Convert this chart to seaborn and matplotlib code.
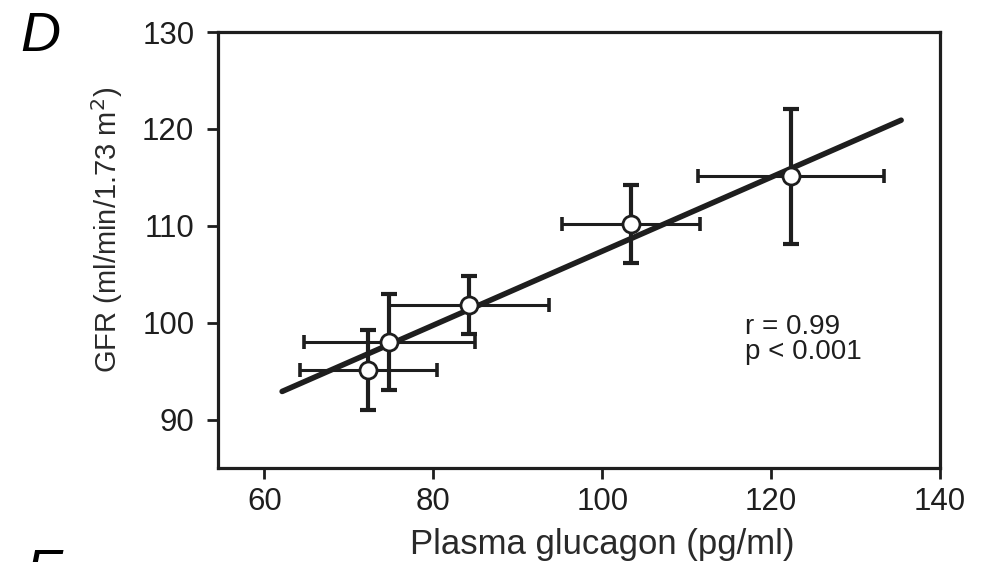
import matplotlib
matplotlib.use("Agg")
import matplotlib.pyplot as plt
import seaborn as sns
import pandas as pd

# Data
glucagon = [72.3, 74.8, 84.2, 103.4, 122.4]
glucagon_err = [8.1, 10.1, 9.5, 8.2, 11.0]
gfr = [95.1, 98.0, 101.8, 110.2, 115.1]
gfr_err = [4.1, 5.0, 3.0, 4.0, 7.0]
fit_x = [62.1, 135.4]
fit_y = [92.9, 120.9]
x_ticks = [60, 80, 100, 120, 140]
y_ticks = [90, 100, 110, 120, 130]

sns.set_theme(style="ticks")
plt.rcParams['font.family'] = ['Liberation Sans', 'DejaVu Sans']

ink = "#1e1e1e"
fig = plt.figure(figsize=(9.88, 5.62), dpi=100)
ax = fig.add_axes([0.2206, 0.1673, 0.7308, 0.7757])

df = pd.DataFrame({"x": glucagon, "y": gfr})
fit = pd.DataFrame({"x": fit_x, "y": fit_y})

sns.lineplot(data=fit, x="x", y="y", ax=ax, color=ink, linewidth=4.0, zorder=2)
ax.errorbar(glucagon, gfr, xerr=glucagon_err, fmt="none", ecolor=ink,
            elinewidth=2.2, capsize=5, capthick=2.6, zorder=3)
ax.errorbar(glucagon, gfr, yerr=gfr_err, fmt="none", ecolor=ink,
            elinewidth=3.0, capsize=5.5, capthick=3.0, zorder=3)
sns.scatterplot(data=df, x="x", y="y", ax=ax, s=150, color="white",
                edgecolor=ink, linewidth=2.0, zorder=5)

ax.set_xlim(54.5, 140)
ax.set_ylim(85, 130)
ax.set_xticks(x_ticks)
ax.set_yticks(y_ticks)
ax.tick_params(axis="both", labelsize=22.5, length=8, width=2, colors=ink,
               direction="out")
ax.tick_params(axis="y", pad=9)
ax.tick_params(axis="x", pad=6)
for s in ax.spines.values():
    s.set_visible(True)
    s.set_linewidth(2.3)
    s.set_color(ink)

ax.set_xlabel("Plasma glucagon (pg/ml)", fontsize=25, color="#2a2a2a")
ax.xaxis.set_label_coords(0.532, -0.138)
ax.set_ylabel("GFR (ml/min/1.73 m$^2$)", fontsize=21, color="#2a2a2a")
ax.yaxis.set_label_coords(-0.129, 0.546)

ax.text(116.9, 98.3, "r = 0.99\np < 0.001", fontsize=20,
        color=ink, va="center", ha="left", linespacing=0.95)

fig.text(0.021, 0.935, "D", fontsize=40, style="italic", color="black",
         va="center", ha="left")
fig.text(0.026, -0.022, "E", fontsize=40, style="italic", color="black",
         va="center", ha="left")

fig.savefig("out.png", dpi=100)
